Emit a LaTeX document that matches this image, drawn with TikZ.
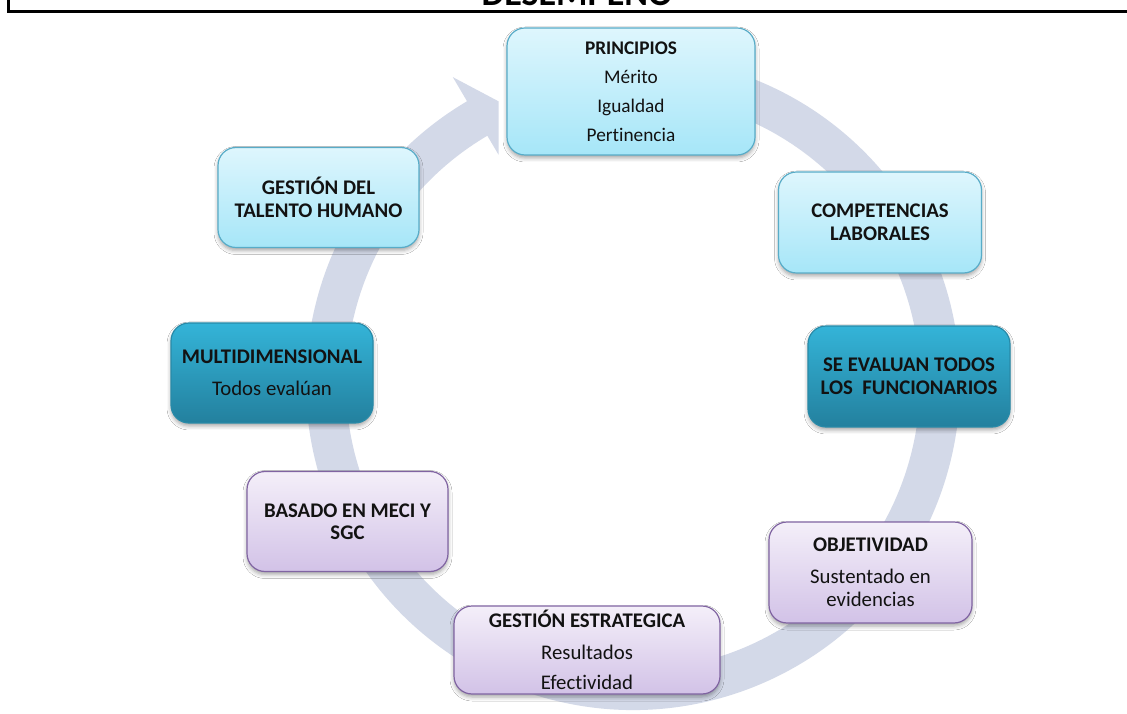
\documentclass[tikz,border=0pt]{standalone}
\usepackage{fontspec}
\setmainfont{Carlito}[Ligatures={NoCommon}]
\usetikzlibrary{calc,shadows.blur}

\definecolor{ringcol}{RGB}{211,217,232}
\definecolor{cyanTop}{RGB}{222,246,253}
\definecolor{cyanBot}{RGB}{166,230,248}
\definecolor{cyanEdge}{RGB}{88,172,200}
\definecolor{tealTop}{RGB}{52,180,216}
\definecolor{tealBot}{RGB}{35,128,158}
\definecolor{tealEdge}{RGB}{40,138,168}
\definecolor{lilaTop}{RGB}{244,239,249}
\definecolor{lilaBot}{RGB}{210,194,231}
\definecolor{lilaEdge}{RGB}{128,100,162}

\tikzset{
  card/.style={rectangle, rounded corners=18pt, line width=1.2pt,
    inner sep=0pt, align=center, text=black!93,
    font=\fontsize{20.8}{22.5}\selectfont,
    blur shadow={shadow xshift=0pt, shadow yshift=-3pt,
      shadow blur radius=4pt, shadow opacity=35}},
  lightcard/.style={card, draw=cyanEdge, top color=cyanTop, bottom color=cyanBot},
  darkcard/.style={card, draw=tealEdge, top color=tealTop, bottom color=tealBot},
  lilacard/.style={card, draw=lilaEdge, top color=lilaTop, bottom color=lilaBot},
}

\begin{document}
\begin{tikzpicture}[x=1pt,y=1pt]
\useasboundingbox (0,0) rectangle (1127,713);
\clip (0,0) rectangle (1127,713);
\fill[white] (0,0) rectangle (1127,713);

% heading, cut by the upper edge
\node[anchor=base, font=\bfseries\fontsize{36}{40}\selectfont, inner sep=0pt]
  (title) at (577,707) {DESEMPEÑO};

% frame
\draw[line width=3pt, line join=miter] (8.5,713) -- (8.5,701.5) -- (1127,701.5);

% circular arrow behind the cards
\coordinate (C) at (633,330);
\fill[ringcol]
  ($(C)+(75:327)$) arc[start angle=75, end angle=-239.5, radius=327]
  -- ($(C)+(120.5:355)$) -- ($(C)+(115.5:312)$) -- ($(C)+(120.5:265)$)
  -- ($(C)+(120.5:287)$) arc[start angle=-239.5, end angle=75, radius=287]
  -- cycle;

% cards
\node[lightcard, minimum width=248pt, minimum height=127pt,
      font=\fontsize{19.3}{23}\selectfont] (principios) at (631,621.5)
  {\textbf{PRINCIPIOS}\\[6pt] Mérito\\[6pt] Igualdad\\[6pt] Pertinencia};
\node[lightcard, minimum width=201pt, minimum height=100pt] (talento) at (318.5,515.5)
  {\textbf{GESTIÓN DEL}\\ \textbf{TALENTO HUMANO}};
\node[lightcard, minimum width=203pt, minimum height=101pt] (competencias) at (880,490.5)
  {\textbf{COMPETENCIAS}\\ \textbf{LABORALES}};
\node[darkcard, minimum width=202pt, minimum height=100pt] (multi) at (272,340)
  {\textbf{MULTIDIMENSIONAL}\\[9.5pt] Todos evalúan};
\node[darkcard, minimum width=202pt, minimum height=101pt] (todos) at (909,336.5)
  {\textbf{SE EVALUAN TODOS}\\ \textbf{LOS\ \ FUNCIONARIOS}};
\node[lilacard, minimum width=201pt, minimum height=100pt] (meci) at (347.5,191.5)
  {\textbf{BASADO EN MECI Y}\\ \textbf{SGC}};
\node[lilacard, minimum width=203pt, minimum height=101pt] (objetividad) at (870.5,140.5)
  {\textbf{OBJETIVIDAD}\\[9.5pt] Sustentado en\\ evidencias};
\node[lilacard, minimum width=266pt, minimum height=88pt] (estrategica) at (587,63)
  {\textbf{GESTIÓN ESTRATEGICA}\\[9.5pt] Resultados\\[7.5pt] Efectividad};
\end{tikzpicture}
\end{document}
